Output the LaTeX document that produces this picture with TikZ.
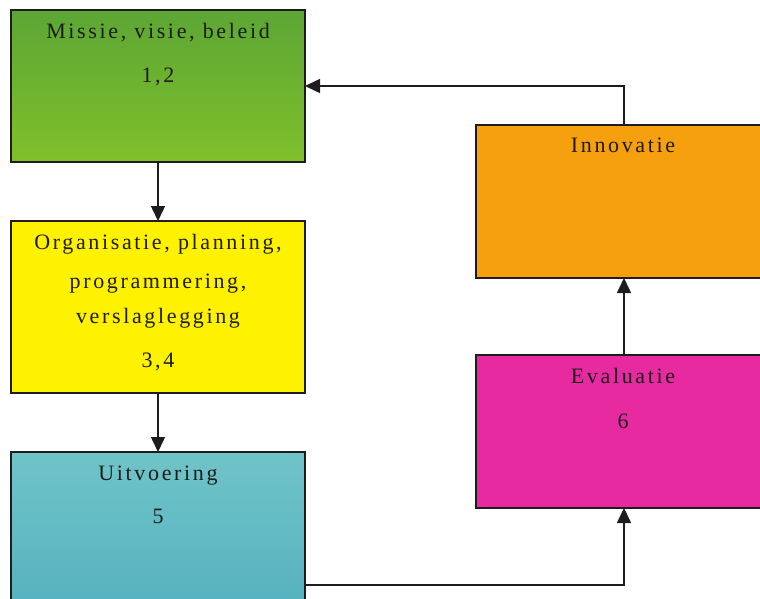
\documentclass[tikz,border=0pt]{standalone}
\usepackage{fontspec}
\setmainfont{Liberation Serif}
\newfontfamily\boxfont{Liberation Serif}[LetterSpace=12]
\usetikzlibrary{arrows.meta}

\definecolor{grtop}{RGB}{92,166,52}
\definecolor{grbot}{RGB}{128,192,44}
\definecolor{yel}{RGB}{255,242,0}
\definecolor{tltop}{RGB}{112,196,200}
\definecolor{tlbot}{RGB}{86,178,192}
\definecolor{ora}{RGB}{246,160,16}
\definecolor{mag}{RGB}{232,42,160}
\definecolor{ink}{RGB}{30,28,28}

\tikzset{
  stagebox/.style={draw=ink, line width=1.5pt, inner sep=0pt, outer sep=0pt,
                   minimum width=294pt, rectangle},
  lbl/.style={anchor=base, inner sep=0pt, text=ink, font=\boxfont\fontsize{22}{26}\selectfont},
  arr/.style={draw=ink, line width=1.5pt, -{Triangle[width=14pt,length=15pt]}},
}

\begin{document}
\begin{tikzpicture}[x=1pt, y=-1pt]
  \useasboundingbox (0,0) rectangle (760,599);
  \clip (0,0) rectangle (760,599);

  % left column: mission, organisation, execution
  \node[stagebox, minimum height=152pt, top color=grtop, bottom color=grbot] (missie) at (158,86) {};
  \node[stagebox, minimum height=172pt, fill=yel] (org) at (158,307) {};
  \node[stagebox, minimum height=152pt, top color=tltop, bottom color=tlbot] (uitv) at (158,528) {};

  % right column: innovation and evaluation
  \node[stagebox, minimum width=296pt, minimum height=153pt, fill=ora] (innov) at (624,201.5) {};
  \node[stagebox, minimum width=296pt, minimum height=153pt, fill=mag] (eval) at (624,431.5) {};

  % labels
  \node[lbl] (t1) at (158,39) {Missie, visie, beleid};
  \node[lbl] (n1) at (158,83) {1,2};
  \node[lbl] (t2a) at (158,249) {Organisatie, planning,};
  \node[lbl] (t2b) at (158,288) {programmering,};
  \node[lbl] (t2c) at (158,323) {verslaglegging};
  \node[lbl] (n2) at (158,367) {3,4};
  \node[lbl] (t3) at (158,480) {Uitvoering};
  \node[lbl] (n3) at (158,523) {5};
  \node[lbl] (t4) at (623,153) {Innovatie};
  \node[lbl] (t5) at (623,383) {Evaluatie};
  \node[lbl] (n5) at (623,428) {6};

  % cycle connectors
  \draw[arr] (missie.south) -- (org.north);
  \draw[arr] (org.south) -- (uitv.north);
  \draw[arr] ([yshift=19pt]uitv.south east) -| (eval.south);
  \draw[arr] (eval.north) -- (innov.south);
  \draw[arr] (innov.north) |- (missie.east);
\end{tikzpicture}
\end{document}
